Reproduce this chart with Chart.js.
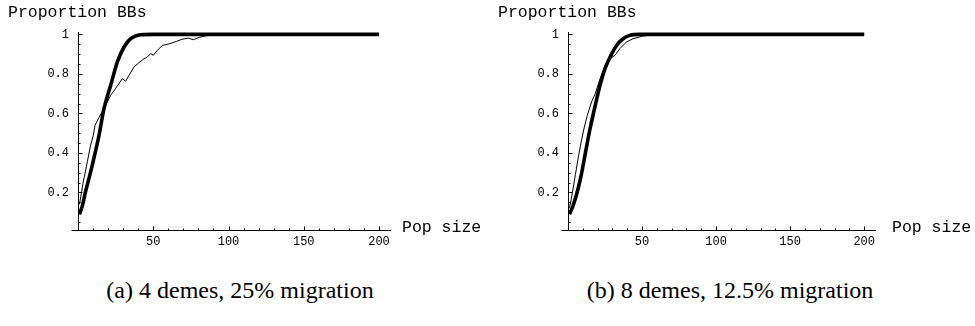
<!DOCTYPE html>
<html>
<head>
<meta charset="utf-8">
<script src="https://cdn.jsdelivr.net/npm/chart.js@4/dist/chart.umd.min.js"></script>
<style>
  html, body { margin: 0; padding: 0; background: #fff; }
  body { width: 975px; height: 326px; position: relative; overflow: hidden; }
  canvas { position: absolute; top: 0; }
  .axis-title { position: absolute; font-family: "Liberation Mono", "DejaVu Sans Mono", monospace; font-size: 16.5px; line-height: 16.5px; color: #000; white-space: pre; }
  .caption { position: absolute; font-family: "Liberation Serif", "DejaVu Serif", serif; font-size: 24px; line-height: 24px; color: #000; white-space: pre; transform: translateX(-50%); top: 278px; }
</style>
</head>
<body>
<canvas id="chartA" width="490" height="260" style="left:0"></canvas>
<canvas id="chartB" width="485" height="260" style="left:490px"></canvas>

<div class="axis-title" style="left:8px; top:5px">Proportion BBs</div>
<div class="axis-title" style="left:402px; top:220px">Pop size</div>
<div class="axis-title" style="left:498px; top:5px">Proportion BBs</div>
<div class="axis-title" style="left:892px; top:220px">Pop size</div>

<div class="caption" style="left:240px">(a) 4 demes, 25% migration</div>
<div class="caption" style="left:730px">(b) 8 demes, 12.5% migration</div>

<script>
// ---------- DATA ----------
// (a) 4 demes, 25% migration
const popThickA = [1, 3, 5, 7.3, 9.5, 11.8, 14, 17.3, 21.7, 26.1, 30.6, 35, 41.7, 50, 60, 200];
const bbThickA  = [0.089, 0.136, 0.204, 0.271, 0.338, 0.414, 0.49, 0.625, 0.742, 0.86, 0.936, 0.978, 0.998, 1, 1, 1];

const popThinA = [1, 3.5, 6.2, 8.4, 10.2, 11.3, 14, 17.3, 21.7, 25, 27.2, 29.4, 31.7, 33.9, 37.2, 40.5, 43.9, 46, 48.3, 50,
                  52.7, 56, 61, 65.6, 69, 73.3, 76.6, 81, 86.6, 94.4, 105, 110, 120, 140, 160, 180, 200];
const bbThinA  = [0.14, 0.254, 0.355, 0.44, 0.49, 0.54, 0.58, 0.625, 0.692, 0.726, 0.751, 0.776, 0.763, 0.793, 0.835, 0.857, 0.877, 0.885, 0.903, 0.894,
                  0.919, 0.944, 0.953, 0.965, 0.975, 0.981, 0.973, 0.986, 0.995, 0.998, 0.998, 0.996, 1, 1, 1, 1, 1];

// (b) 8 demes, 12.5% migration
const popThickB = [1, 3, 5, 7, 9, 11, 13, 15.1, 18.4, 21.7, 25, 28.4, 32.8, 37.2, 41.7, 48.3, 60, 200];
const bbThickB  = [0.09, 0.125, 0.17, 0.225, 0.29, 0.37, 0.45, 0.53, 0.64, 0.745, 0.827, 0.885, 0.944, 0.978, 0.995, 1, 1, 1];

const popThinB = [1, 3, 5, 7, 9, 11, 13, 16, 18.4, 21.7, 25, 28.4, 31.7, 35, 39.4, 43.9, 50.5, 57, 70, 200];
const bbThinB  = [0.12, 0.2, 0.29, 0.38, 0.46, 0.53, 0.59, 0.66, 0.7, 0.776, 0.843, 0.877, 0.894, 0.928, 0.961, 0.978, 0.991, 0.998, 1, 1];

// tick values
const xMajorTicks = [50, 100, 150, 200];
const xMinorTicks = [10, 20, 30, 40, 60, 70, 80, 90, 110, 120, 130, 140, 160, 170, 180, 190];
const yMajorTicks = [0.2, 0.4, 0.6, 0.8, 1];
const yMinorTicks = [0.05, 0.1, 0.15, 0.25, 0.3, 0.35, 0.45, 0.5, 0.55, 0.65, 0.7, 0.75, 0.85, 0.9, 0.95];

const toPoints = (xs, ys) => xs.map((x, i) => ({ x, y: ys[i] }));

// Mathematica style ticks: drawn inward from the axes
const innerTicks = {
  id: "innerTicks",
  afterDraw(chart) {
    const { ctx, scales: { x, y } } = chart;
    ctx.save();
    ctx.strokeStyle = "#000";
    ctx.lineWidth = 1;
    ctx.beginPath();
    const base = Math.round(y.bottom) + 0.5;
    const axisX = Math.round(x.left) + 0.5;
    xMajorTicks.concat(xMinorTicks).forEach((v) => {
      const px = Math.round(x.getPixelForValue(v)) + 0.5;
      const len = xMajorTicks.includes(v) ? 4 : 2;
      ctx.moveTo(px, base);
      ctx.lineTo(px, base - len);
    });
    yMajorTicks.concat(yMinorTicks).forEach((v) => {
      const py = Math.round(y.getPixelForValue(v)) + 0.5;
      const len = yMajorTicks.includes(v) ? 4 : 2;
      ctx.moveTo(axisX, py);
      ctx.lineTo(axisX + len, py);
    });
    // little stub of the x axis left of the y axis
    ctx.moveTo(axisX - 7, base);
    ctx.lineTo(axisX, base);
    ctx.stroke();
    ctx.restore();
  },
};

const tickFont = { family: "'Liberation Mono', 'DejaVu Sans Mono', monospace", size: 12 };

const makeChart = (id, thickPts, thinPts) =>
  new Chart(document.getElementById(id), {
    type: "line",
    data: {
      datasets: [
        {
          data: thinPts,
          borderColor: "#000",
          borderWidth: 1,
          pointRadius: 0,
          tension: 0,
          clip: false,
        },
        {
          data: thickPts,
          borderColor: "#000",
          borderWidth: 3.6,
          pointRadius: 0,
          cubicInterpolationMode: "monotone",
          clip: false,
        },
      ],
    },
    options: {
      responsive: false,
      animation: false,
      devicePixelRatio: 1,
      layout: { padding: { left: 0, top: 32, right: 100, bottom: 0 } },
      plugins: { legend: { display: false }, tooltip: { enabled: false } },
      scales: {
        x: {
          type: "linear",
          min: 0,
          max: 207.3,
          grid: { display: false, drawTicks: false },
          border: { display: true, color: "#000", width: 1 },
          afterBuildTicks: (s) => { s.ticks = xMajorTicks.map((v) => ({ value: v })); },
          afterFit: (s) => { s.height = 30; },
          ticks: { color: "#000", font: tickFont, padding: 5, maxRotation: 0, autoSkip: false },
        },
        y: {
          type: "linear",
          min: 0.01,
          max: 1.012,
          grid: { display: false, drawTicks: false },
          border: { display: true, color: "#000", width: 1 },
          afterBuildTicks: (s) => { s.ticks = yMajorTicks.map((v) => ({ value: v })); },
          afterFit: (s) => { s.width = 78; },
          ticks: {
            color: "#000",
            font: tickFont,
            padding: 9,
            callback: (v) => String(+Number(v).toFixed(2)),
          },
        },
      },
    },
    plugins: [innerTicks],
  });

makeChart("chartA", toPoints(popThickA, bbThickA), toPoints(popThinA, bbThinA));
makeChart("chartB", toPoints(popThickB, bbThickB), toPoints(popThinB, bbThinB));
</script>
</body>
</html>
